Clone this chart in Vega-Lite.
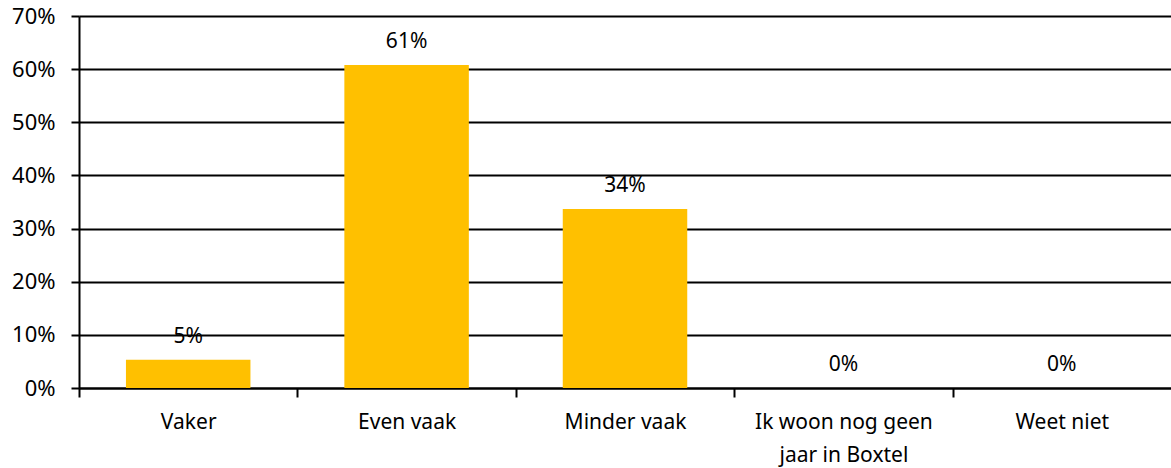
{
  "$schema": "https://vega.github.io/schema/vega-lite/v6.json",
  "width": 1092,
  "height": 372,
  "autosize": {"type": "none"},
  "padding": {"left": 79, "top": 16, "right": 0, "bottom": 80},
  "background": "white",
  "config": {
    "view": {"stroke": null},
    "font": "Noto Sans",
    "axis": {"labelFont": "Noto Sans", "labelColor": "#000000", "labelFontSize": 21}
  },
  "data": {
    "values": [
      {"categorie": "Vaker", "waarde": 0.053, "label": "5%"},
      {"categorie": "Even vaak", "waarde": 0.608, "label": "61%"},
      {"categorie": "Minder vaak", "waarde": 0.337, "label": "34%"},
      {"categorie": "Ik woon nog geen jaar in Boxtel", "waarde": 0, "label": "0%"},
      {"categorie": "Weet niet", "waarde": 0, "label": "0%"}
    ]
  },
  "encoding": {
    "x": {
      "field": "categorie",
      "type": "nominal",
      "sort": null,
      "scale": {"paddingInner": 0.43, "paddingOuter": 0.215},
      "axis": {
        "title": null,
        "labelAngle": 0,
        "domainColor": "#000000",
        "domainWidth": 2,
        "tickColor": "#000000",
        "tickWidth": 2,
        "tickSize": 9,
        "tickOffset": -109.2,
        "labelOffset": 109.2,
        "labelPadding": 14,
        "labelLimit": 400,
        "labelLineHeight": 33,
        "labelBaseline": "top",
        "labelExpr": "datum.label == 'Ik woon nog geen jaar in Boxtel' ? ['Ik woon nog geen', 'jaar in Boxtel'] : datum.label"
      }
    },
    "y": {
      "field": "waarde",
      "type": "quantitative",
      "scale": {"domain": [0, 0.7]},
      "axis": {
        "title": null,
        "format": ".0%",
        "values": [0, 0.1, 0.2, 0.3, 0.4, 0.5, 0.6, 0.7],
        "grid": true,
        "gridColor": "#000000",
        "gridWidth": 2,
        "gridOpacity": 1,
        "domainColor": "#000000",
        "domainWidth": 2,
        "tickColor": "#000000",
        "tickWidth": 2,
        "tickSize": 8,
        "labelFontSize": 22,
        "labelPadding": 16
      }
    }
  },
  "layer": [
    {"mark": {"type": "bar", "color": "#FFC000"}},
    {
      "mark": {"type": "text", "baseline": "bottom", "dy": -13, "fontSize": 21, "color": "#000000", "font": "Noto Sans"},
      "encoding": {"text": {"field": "label"}}
    }
  ]
}
